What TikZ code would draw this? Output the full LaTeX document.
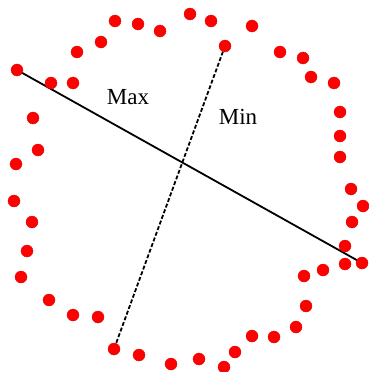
\documentclass[tikz,border=0pt]{standalone}
\usepackage{fontspec}
\setmainfont{Liberation Serif}
\usetikzlibrary{backgrounds}
\tikzset{
  dot/.style={circle,fill=red,draw=red!85!black,line width=0.3pt,inner sep=0pt,minimum size=12pt},
  maxline/.style={line width=1.8pt,black},
  minline/.style={line width=1.8pt,black,dash pattern=on 4pt off 2pt},
  lbl/.style={font=\fontsize{23}{26}\selectfont,inner sep=0pt}
}
\begin{document}
\begin{tikzpicture}[x=1pt,y=-1pt]
\useasboundingbox (0,0) rectangle (368,372);
\foreach \i/\x/\y in {1/115/21,2/138/24,3/160/31,4/101/42,5/77/52,6/17/70,7/51/83,8/73/83,9/33/118,10/38/150,11/16/164,12/190/14,13/211/21,14/252/26,15/225/46,16/280/52,17/303/58,18/311/77,19/334/83,20/340/112,21/340/136,22/340/157,23/351/189,24/363/206,25/352/222,26/345/246,27/362/263,28/345/264,29/323/270,30/304/276,31/306/306,32/296/327,33/274/337,34/252/336,35/235/352,36/224/367,37/199/359,38/171/364,39/139/355,40/114/349,41/98/317,42/73/315,43/49/300,44/21/277,45/27/251,46/32/222,47/14/201}
  \node[dot] (d\i) at (\x,\y) {};
\begin{scope}[on background layer]
\draw[maxline] (d6.center) -- (d27.center);
\draw[minline] (d15.center) -- (d40.center);
\end{scope}
\node[lbl] (max) at (128,97.5) {Max};
\node[lbl] (min) at (238,116.5) {Min};
\end{tikzpicture}
\end{document}
